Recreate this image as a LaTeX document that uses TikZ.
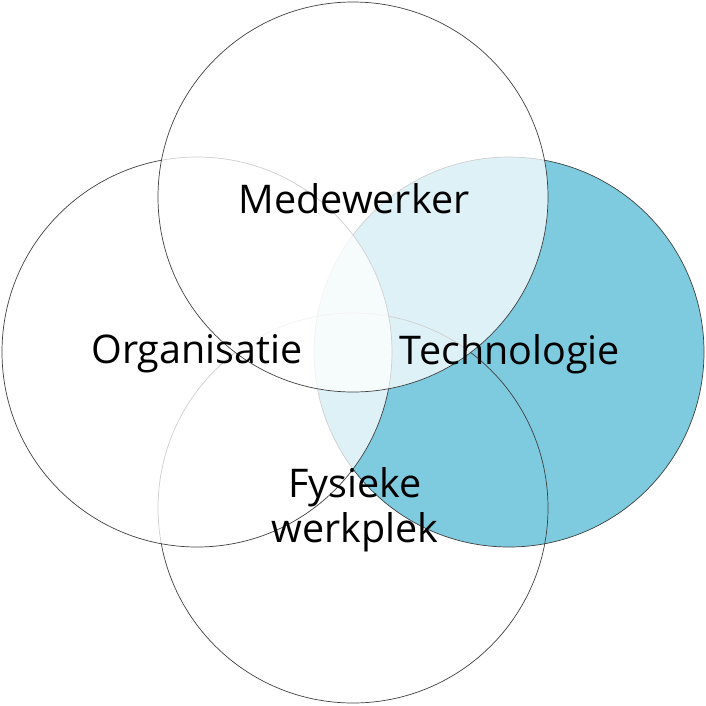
\documentclass[tikz,border=0pt]{standalone}
\usepackage{fontspec}
\setmainfont{Open Sans}
\begin{document}
\begin{tikzpicture}[x=1pt,y=-1pt,
ring/.style={draw=black!75,line width=0.7pt,fill=white,fill opacity=.75},
openring/.style={draw=black!75,line width=0.7pt},
techring/.style={draw=black!75,line width=0.7pt,fill=techblue},
label/.style={font=\fontsize{39.5}{45}\selectfont,align=center,text=black}]
\definecolor{techblue}{HTML}{7ECBE0}
\useasboundingbox (0,0) rectangle (706,705);

% Circles
\draw[techring] (509,352) circle (195);
\draw[openring] (353,508) circle (195);
\draw[ring] (197,352) circle (195);
\draw[ring] (353,197) circle (195);

% Labels
\node[label] (medewerker) at (354,199) {Medewerker};
\node[label] (organisatie) at (197,354) {Organisatie};
\node[label] (technologie) at (510,354) {Technologie};
\node[label] (werkplek) at (355,510) {Fysieke\\werkplek};
\end{tikzpicture}
\end{document}
